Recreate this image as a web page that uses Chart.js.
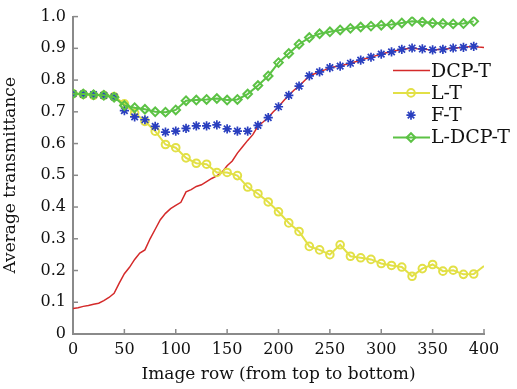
<!DOCTYPE html>
<html>
<head>
<meta charset="utf-8">
<script src="https://cdn.jsdelivr.net/npm/chart.js@4.4.0/dist/chart.umd.min.js"></script>
<style>
  html, body { margin: 0; padding: 0; background: #fff; }
  #wrap { width: 517px; height: 389px; }
</style>
</head>
<body>
<div id="wrap"><canvas id="chart" width="517" height="389"></canvas></div>
<script>
// image rows where the marker series are sampled
const rows = [0, 10, 20, 30, 40, 50, 60, 70, 80, 90, 100, 110, 120, 130, 140, 150, 160, 170, 180, 190,
  200, 210, 220, 230, 240, 250, 260, 270, 280, 290, 300, 310, 320, 330, 340, 350, 360, 370, 380, 390];
const ltRows = [0, 10, 20, 30, 40, 50, 60, 70, 80, 90, 100, 110, 120, 130, 140, 150, 160, 170, 180, 190,
  200, 210, 220, 230, 240, 250, 260, 270, 280, 290, 300, 310, 320, 330, 340, 350, 360, 370, 380, 390, 400];
const dcpRows = [0, 5, 10, 15, 20, 25, 30, 35, 40, 45, 50, 55, 60, 65, 70, 75, 80, 85, 90, 95,
  100, 105, 110, 115, 120, 125, 130, 135, 140, 145, 150, 155, 160, 165, 170, 175, 180, 185, 190, 195,
  200, 205, 210, 215, 220, 225, 230, 235, 240, 245, 250, 255, 260, 265, 270, 275, 280, 285, 290, 295,
  300, 305, 310, 315, 320, 325, 330, 335, 340, 345, 350, 355, 360, 365, 370, 375, 380, 385, 390, 395, 400];

const dcpT = [0.080, 0.083, 0.087, 0.090, 0.094, 0.097, 0.105, 0.115, 0.128, 0.160,
  0.190, 0.210, 0.235, 0.255, 0.265, 0.300, 0.330, 0.360, 0.380, 0.395,
  0.405, 0.415, 0.448, 0.455, 0.465, 0.470, 0.480, 0.490, 0.498, 0.510,
  0.530, 0.545, 0.570, 0.590, 0.610, 0.628, 0.655, 0.668, 0.682, 0.700,
  0.716, 0.735, 0.752, 0.768, 0.781, 0.797, 0.813, 0.820, 0.826, 0.832,
  0.839, 0.842, 0.844, 0.849, 0.853, 0.858, 0.863, 0.868, 0.872, 0.877,
  0.882, 0.886, 0.889, 0.893, 0.897, 0.899, 0.901, 0.899, 0.898, 0.896,
  0.895, 0.896, 0.897, 0.899, 0.901, 0.902, 0.903, 0.905, 0.906, 0.904, 0.903];

const lT = [0.757, 0.755, 0.752, 0.752, 0.748, 0.725, 0.696, 0.670, 0.639, 0.597,
  0.587, 0.555, 0.538, 0.535, 0.509, 0.509, 0.499, 0.463, 0.442, 0.416,
  0.385, 0.350, 0.323, 0.276, 0.265, 0.250, 0.281, 0.245, 0.240, 0.235,
  0.222, 0.216, 0.211, 0.182, 0.206, 0.219, 0.198, 0.201, 0.188, 0.189, 0.214];

const fT = [0.757, 0.756, 0.754, 0.752, 0.747, 0.704, 0.684, 0.675, 0.654, 0.636,
  0.639, 0.648, 0.656, 0.656, 0.659, 0.646, 0.639, 0.639, 0.657, 0.682,
  0.716, 0.752, 0.781, 0.813, 0.826, 0.839, 0.844, 0.853, 0.863, 0.872,
  0.882, 0.889, 0.897, 0.901, 0.898, 0.895, 0.897, 0.901, 0.903, 0.906];

const ldcpT = [0.757, 0.756, 0.754, 0.752, 0.746, 0.720, 0.713, 0.708, 0.700, 0.699,
  0.706, 0.735, 0.737, 0.739, 0.742, 0.737, 0.739, 0.756, 0.783, 0.813,
  0.855, 0.884, 0.913, 0.934, 0.946, 0.952, 0.958, 0.963, 0.967, 0.970,
  0.973, 0.975, 0.980, 0.985, 0.983, 0.980, 0.978, 0.977, 0.978, 0.985];

const seriesNames = ['DCP-T', 'L-T', 'F-T', 'L-DCP-T'];
const xTicks = [0, 50, 100, 150, 200, 250, 300, 350, 400];

const axisColor = '#8a8a8a';
const serif = "'DejaVu Serif', 'Liberation Serif', serif";

function pts(xs, ys) {
    return ys.map((v, i) => ({ x: xs[i], y: v }));
}

// ticks drawn inward like the original plot
const insideTicks = {
    id: 'insideTicks',
    afterDraw(chart) {
        const ctx = chart.ctx;
        const xs = chart.scales.x, ys = chart.scales.y;
        ctx.save();
        ctx.strokeStyle = axisColor;
        ctx.lineWidth = 1.5;
        xs.ticks.forEach(t => {
            const px = xs.getPixelForValue(t.value);
            ctx.beginPath();
            ctx.moveTo(px, ys.bottom);
            ctx.lineTo(px, ys.bottom - 5);
            ctx.stroke();
        });
        ys.ticks.forEach(t => {
            const py = ys.getPixelForValue(t.value);
            ctx.beginPath();
            ctx.moveTo(xs.left, py);
            ctx.lineTo(xs.left + 5, py);
            ctx.stroke();
        });
        ctx.restore();
    }
};

// legend inside the plot, upper right
const innerLegend = {
    id: 'innerLegend',
    afterDraw(chart) {
        const ctx = chart.ctx;
        const area = chart.chartArea;
        const x0 = area.right - 91;
        let y = area.top + 54;
        ctx.save();
        chart.data.datasets.forEach(ds => {
            if (ds.showLine !== false) {
                ctx.strokeStyle = ds.borderColor;
                ctx.lineWidth = ds.borderWidth;
                ctx.beginPath();
                ctx.moveTo(x0, y);
                ctx.lineTo(x0 + 37, y);
                ctx.stroke();
            }
            if (ds.legendRadius) {
                ctx.strokeStyle = ds.pointBorderColor;
                ctx.fillStyle = 'rgba(0,0,0,0)';
                ctx.lineWidth = ds.pointBorderWidth;
                Chart.helpers.drawPoint(ctx, {
                    pointStyle: ds.pointStyle,
                    radius: ds.legendRadius,
                    rotation: 0,
                    borderWidth: ds.pointBorderWidth
                }, x0 + 18, y);
            }
            ctx.fillStyle = '#111';
            ctx.font = '19px ' + serif;
            ctx.textBaseline = 'middle';
            ctx.fillText(ds.label, x0 + 38, y + 1);
            y += 22.3;
        });
        ctx.restore();
    }
};

const ctx = document.getElementById('chart').getContext('2d');
new Chart(ctx, {
    type: 'line',
    data: {
        datasets: [
            {
                label: seriesNames[0],
                data: pts(dcpRows, dcpT),
                borderColor: '#d42a2a',
                borderWidth: 1.5,
                pointRadius: 0,
                legendRadius: 0,
                order: 4
            },
            {
                label: seriesNames[1],
                data: pts(ltRows, lT),
                borderColor: '#e2e046',
                borderWidth: 2,
                pointStyle: 'circle',
                pointRadius: c => (c.dataIndex === lT.length - 1 ? 0 : 3.8),
                legendRadius: 3.8,
                pointBorderColor: '#e2e046',
                pointBackgroundColor: 'rgba(0,0,0,0)',
                pointBorderWidth: 2,
                order: 3
            },
            {
                label: seriesNames[2],
                data: pts(rows, fT),
                showLine: false,
                borderColor: '#2a3fbf',
                pointStyle: 'star',
                pointRadius: 4.6,
                legendRadius: 4.6,
                pointBorderColor: '#2a3fbf',
                pointBackgroundColor: '#2a3fbf',
                pointBorderWidth: 1.7,
                order: 2
            },
            {
                label: seriesNames[3],
                data: pts(rows, ldcpT),
                borderColor: '#5cc245',
                borderWidth: 2,
                pointStyle: 'rectRot',
                pointRadius: 4.3,
                legendRadius: 4.3,
                pointBorderColor: '#5cc245',
                pointBackgroundColor: 'rgba(0,0,0,0)',
                pointBorderWidth: 2,
                order: 1
            }
        ]
    },
    options: {
        responsive: false,
        animation: false,
        devicePixelRatio: 1,
        layout: { padding: { top: 12, right: 33, left: 0, bottom: 0 } },
        plugins: {
            legend: { display: false },
            tooltip: { enabled: false }
        },
        scales: {
            x: {
                type: 'linear',
                min: 0,
                max: 400,
                afterBuildTicks: s => { s.ticks = xTicks.map(v => ({ value: v })); },
                afterFit: s => { s.height = 55; },
                grid: { display: false, drawTicks: false },
                border: { display: true, color: axisColor, width: 2 },
                ticks: {
                    color: '#111',
                    padding: 6,
                    maxRotation: 0,
                    font: { family: serif, size: 16 }
                },
                title: {
                    display: true,
                    text: 'Image row (from top to bottom)',
                    color: '#111',
                    padding: { top: 0, bottom: 4 },
                    font: { family: serif, size: 17 }
                }
            },
            y: {
                min: 0,
                max: 1,
                afterFit: s => { s.width = 73; },
                grid: { display: false, drawTicks: false },
                border: { display: true, color: axisColor, width: 2 },
                ticks: {
                    stepSize: 0.1,
                    color: '#111',
                    padding: 7,
                    font: { family: serif, size: 16 },
                    callback: v => (v === 0 ? '0' : v.toFixed(1))
                },
                title: {
                    display: true,
                    text: 'Average transmittance',
                    color: '#111',
                    padding: { top: 0, bottom: 0 },
                    font: { family: serif, size: 17 }
                }
            }
        }
    },
    plugins: [insideTicks, innerLegend]
});
</script>
</body>
</html>
